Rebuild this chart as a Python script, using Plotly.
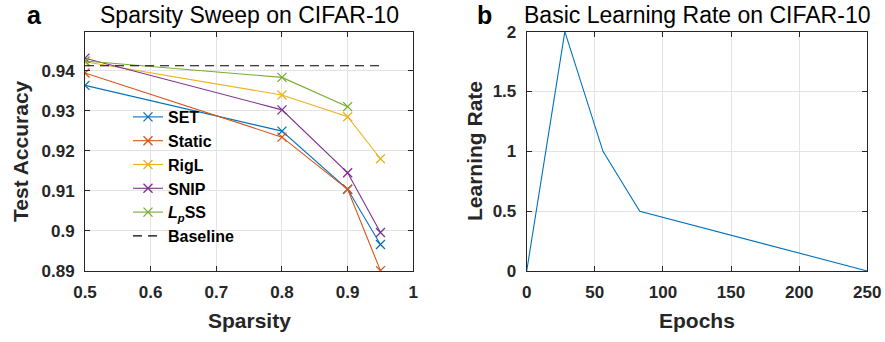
import plotly.graph_objects as go

# ---------------- data ----------------
sparsity = [0.5, 0.8, 0.9, 0.95]
set_acc = [0.9363, 0.9249, 0.9104, 0.8966]
static_acc = [0.9394, 0.9234, 0.9104, 0.8901]
rigl_acc = [0.9422, 0.9339, 0.9285, 0.9180]
snip_acc = [0.9431, 0.9302, 0.9145, 0.8996]
lpss_sparsity = [0.5, 0.8, 0.9]
lpss_acc = [0.9424, 0.9383, 0.9310]
baseline_sparsity = [0.5, 0.95]
baseline_acc = [0.9412, 0.9412]

epochs = [0, 28, 56, 83, 250]
learning_rate = [0, 2, 1, 0.5, 0]

sparsity_ticks = [0.5, 0.6, 0.7, 0.8, 0.9, 1.0]
sparsity_ticktext = ["0.5", "0.6", "0.7", "0.8", "0.9", "1"]
acc_ticks = [0.89, 0.90, 0.91, 0.92, 0.93, 0.94]
acc_ticktext = ["0.89", "0.9", "0.91", "0.92", "0.93", "0.94"]
epoch_ticks = [0, 50, 100, 150, 200, 250]
lr_ticks = [0, 0.5, 1, 1.5, 2]
lr_ticktext = ["0", "0.5", "1", "1.5", "2"]

# ---------------- styling ----------------
W, H = 885, 342
FONT = "Liberation Sans"
TXT = "#262626"
colors = ["#0072BD", "#D95319", "#EDB120", "#7E2F8E", "#77AC30"]


def px(x):
    return x / W


def py(y):
    return 1 - y / H


fig = go.Figure()

series = [
    ("SET", sparsity, set_acc),
    ("Static", sparsity, static_acc),
    ("RigL", sparsity, rigl_acc),
    ("SNIP", sparsity, snip_acc),
    ("<i>L<sub>p</sub></i>SS", lpss_sparsity, lpss_acc),
]
for (name, xs, ys), c in zip(series, colors):
    fig.add_trace(go.Scatter(
        x=xs, y=ys, name=name, mode="lines+markers",
        line=dict(color=c, width=1.1),
        marker=dict(symbol="x-thin-open", size=9, line=dict(color=c, width=1.3)),
        xaxis="x", yaxis="y",
    ))
fig.add_trace(go.Scatter(
    x=baseline_sparsity, y=baseline_acc, name="Baseline", mode="lines",
    line=dict(color="black", width=1.1, dash="9px,6px"),
    xaxis="x", yaxis="y",
))
fig.add_trace(go.Scatter(
    x=epochs, y=learning_rate, mode="lines", showlegend=False,
    line=dict(color=colors[0], width=1.1),
    xaxis="x2", yaxis="y2",
))

tickfont = dict(family=FONT, size=17, color=TXT, weight="bold")
common = dict(
    showgrid=True, gridcolor="#e3e3e3", gridwidth=1,
    showline=True, linecolor=TXT, linewidth=1, mirror="ticks",
    ticks="inside", ticklen=5, tickcolor=TXT, tickwidth=1,
    tickfont=tickfont, zeroline=False, automargin=False,
)

ydom = [py(271), py(31.7)]
fig.update_layout(
    width=W, height=H,
    margin=dict(l=0, r=0, t=0, b=0, autoexpand=False),
    paper_bgcolor="white", plot_bgcolor="white",
    xaxis=dict(domain=[px(85), px(413.3)], range=[0.5, 1.0], tickvals=sparsity_ticks,
               ticktext=sparsity_ticktext, anchor="y", ticklabelstandoff=6, **common),
    yaxis=dict(domain=ydom, range=[0.89, 0.9497], tickvals=acc_ticks,
               ticktext=acc_ticktext, anchor="x", ticklabelstandoff=6, **common),
    xaxis2=dict(domain=[px(526.7), px(867.3)], range=[0, 250], tickvals=epoch_ticks,
                anchor="y2", ticklabelstandoff=6, **common),
    yaxis2=dict(domain=ydom, range=[0, 2], tickvals=lr_ticks, ticktext=lr_ticktext,
                anchor="x2", ticklabelstandoff=6, **common),
    legend=dict(
        x=px(128), y=py(100), xanchor="left", yanchor="top",
        bgcolor="rgba(0,0,0,0)", borderwidth=0,
        font=dict(family=FONT, size=16, color="black", weight="bold"),
        tracegroupgap=0, itemwidth=30,
    ),
    showlegend=True,
)

annos = [
    dict(text="Sparsity Sweep on CIFAR-10", x=px(249), y=py(15), size=23, weight="normal", color="black"),
    dict(text="Basic Learning Rate on CIFAR-10", x=px(697), y=py(15), size=23, weight="normal", color="black"),
    dict(text="Sparsity", x=px(249), y=py(320), size=21, weight="bold", color=TXT),
    dict(text="Epochs", x=px(697), y=py(320), size=21, weight="bold", color=TXT),
]
for a in annos:
    fig.add_annotation(
        text=a["text"], x=a["x"], y=a["y"], xref="paper", yref="paper",
        xanchor="center", yanchor="middle", showarrow=False,
        font=dict(family=FONT, size=a["size"], color=a["color"], weight=a["weight"]),
    )
# panel letters, anchored to the top edge so their boxes stay inside the page
for text, x in [("a", 34.5), ("b", 485)]:
    fig.add_annotation(
        text=text, x=px(x), y=1, xref="paper", yref="paper",
        xanchor="center", yanchor="top", showarrow=False, borderpad=0,
        font=dict(family=FONT, size=25, color="black", weight="bold"),
    )
for text, x in [("Test Accuracy", 20), ("Learning Rate", 474)]:
    fig.add_annotation(
        text=text, x=px(x), y=py(151), xref="paper", yref="paper",
        xanchor="center", yanchor="middle", showarrow=False, textangle=-90,
        font=dict(family=FONT, size=21, color=TXT, weight="bold"),
    )

fig.write_html("out.html")
